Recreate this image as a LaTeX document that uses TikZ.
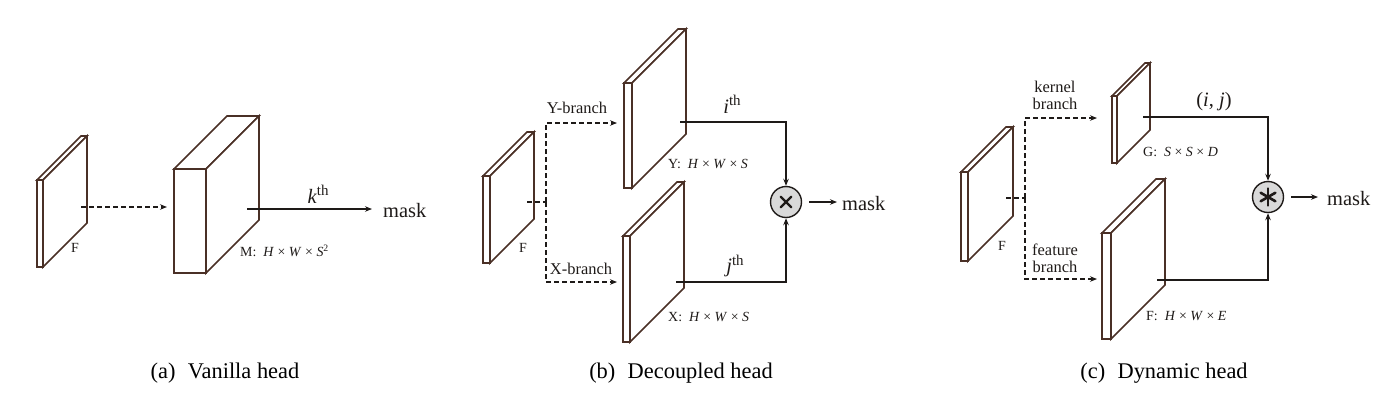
\documentclass[tikz,border=0pt]{standalone}
\usepackage{fontspec}
\setmainfont{Liberation Serif}
\usetikzlibrary{arrows.meta}
\definecolor{slabc}{HTML}{4A3026}
\definecolor{inkc}{HTML}{1E1A18}
\definecolor{opfill}{HTML}{D9D9D9}
% front face (x1,y1)-(x2,y2), depth offset d
\newcommand{\mkslab}[5]{%
  \filldraw[slabst] (#1,#2) -- (#1+#5,#2-#5) -- (#3+#5,#2-#5) -- (#3,#2) -- cycle;
  \filldraw[slabst] (#3,#2) -- (#3+#5,#2-#5) -- (#3+#5,#4-#5) -- (#3,#4) -- cycle;
  \filldraw[slabst] (#1,#2) rectangle (#3,#4);}
\begin{document}
\begin{tikzpicture}[x=1bp, y=-1bp,
  slabst/.style={draw=slabc, fill=white, line width=1.7bp, line join=miter},
  arr/.style={draw=inkc, line width=1.6bp, -{Stealth[length=7bp,width=5.5bp]}},
  dsh/.style={arr, dash pattern=on 5bp off 3bp},
  lbl/.style={inner sep=0, text=inkc, font=\fontsize{16.5}{17}\selectfont, align=center},
  dimlbl/.style={inner sep=0, text=inkc, font=\fontsize{14}{16}\selectfont, anchor=west},
  small/.style={inner sep=0, text=inkc, font=\fontsize{14}{15}\selectfont},
  big/.style={inner sep=0, text=inkc, font=\fontsize{20.5}{24}\selectfont},
  capt/.style={inner sep=0, text=black, font=\fontsize{22.5}{26}\selectfont, anchor=base},
  opnode/.style={circle, draw=inkc, fill=opfill, line width=1.4bp, minimum size=31bp, inner sep=0},
  opmark/.style={draw=inkc, line width=2.4bp, line cap=round}]
\useasboundingbox (0,0) rectangle (1400,411);

% ================= (a) Vanilla head =================
\mkslab{37}{180}{43}{267}{44}
\mkslab{174}{169}{206}{273}{53}
\node[small] (aFl) at (75,248) {F};
\node[dimlbl] (aMl) at (240,251) {M:\ \ \textit{H} × \textit{W} × \textit{S}\textsuperscript{2}};
\coordinate (aFs) at (81,207);
\coordinate (aMin) at (167,207);
\draw[dsh] (aFs) -- (aMin);
\coordinate (aMs) at (247,209);
\coordinate (aMe) at (372,209);
\node[big, anchor=west] (amask) at (383,211) {mask};
\draw[arr] (aMs) -- (aMe);
\node[big] (ak) at (318,194) {\textit{k}\raisebox{0.38em}{\fontsize{15}{15}\selectfont th}};
\node[capt] (acap) at (225,378) {(a)\hspace{0.55em}Vanilla head};

% ================= (b) Decoupled head =================
\mkslab{483}{176}{490}{263}{44}
\mkslab{624}{83}{632}{188}{54}
\mkslab{623}{236}{630}{342}{54}
\node[small] (bFl) at (523,248) {F};
\node[dimlbl] (bYl) at (668,164) {Y:\ \ \textit{H} × \textit{W} × \textit{S}};
\node[dimlbl] (bXl) at (668,317) {X:\ \ \textit{H} × \textit{W} × \textit{S}};
\coordinate (bFs) at (527,202);
\coordinate (bJ) at (546,202);
\coordinate (bJu) at (546,123);
\coordinate (bJd) at (546,282);
\coordinate (bYin) at (617,123);
\coordinate (bXin) at (617,282);
\draw[dsh, -] (bFs) -- (bJ);
\draw[dsh] (bJ) -- (bJu) -- (bYin);
\draw[dsh] (bJ) -- (bJd) -- (bXin);
\node[lbl] (bYb) at (577,108) {Y-branch};
\node[lbl] (bXb) at (581,269) {X-branch};
\node[opnode] (bop) at (786,202) {};
\draw[opmark] (bop.center) ++(45:7.5) -- ++(225:15);
\draw[opmark] (bop.center) ++(135:7.5) -- ++(315:15);
\coordinate (bYs) at (680,122);
\coordinate (bYc) at (786,122);
\coordinate (bXs) at (676,282);
\coordinate (bXc) at (786,282);
\draw[arr] (bYs) -- (bYc) -- (bop.north);
\draw[arr] (bXs) -- (bXc) -- (bop.south);
\node[big] (bi) at (732,104) {\textit{i}\raisebox{0.38em}{\fontsize{15}{15}\selectfont th}};
\node[big] (bj) at (735,266) {\textit{j}\raisebox{0.38em}{\fontsize{15}{15}\selectfont th}};
\coordinate (bms) at (809,202);
\coordinate (bme) at (837,202);
\node[big, anchor=west] (bmask) at (842,204) {mask};
\draw[arr] (bms) -- (bme);
\node[capt] (bcap) at (681,378) {(b)\hspace{0.55em}Decoupled head};

% ================= (c) Dynamic head =================
\mkslab{961}{172}{968}{261}{45}
\mkslab{1112}{96}{1117}{163}{33}
\mkslab{1102}{233}{1111}{339}{54}
\node[small] (cFl) at (1002,246) {F};
\node[dimlbl] (cGl) at (1143,152) {G:\ \ \textit{S} × \textit{S} × \textit{D}};
\node[dimlbl] (cF2l) at (1146,316) {F:\ \ \textit{H} × \textit{W} × \textit{E}};
\coordinate (cFs) at (1006,198);
\coordinate (cJ) at (1025,198);
\coordinate (cJu) at (1025,118);
\coordinate (cJd) at (1025,279);
\coordinate (cGin) at (1097,118);
\coordinate (cF2in) at (1097,279);
\draw[dsh, -] (cFs) -- (cJ);
\draw[dsh] (cJ) -- (cJu) -- (cGin);
\draw[dsh] (cJ) -- (cJd) -- (cF2in);
\node[lbl] (ckb) at (1055,95) {kernel\\branch};
\node[lbl] (cfb) at (1055,258) {feature\\branch};
\node[opnode] (cop) at (1268,197) {};
\foreach \a in {90,30,-30,-90,150,210}
  \draw[opmark, line width=2.6bp] (cop.center) -- ++(\a:8.5);
\coordinate (cGs) at (1143,117);
\coordinate (cGc) at (1268,117);
\coordinate (cF2s) at (1157,280);
\coordinate (cF2c) at (1268,280);
\draw[arr] (cGs) -- (cGc) -- (cop.north);
\draw[arr] (cF2s) -- (cF2c) -- (cop.south);
\node[big] (cij) at (1214,102) {(\textit{i}, \textit{j})};
\coordinate (cms) at (1291,197);
\coordinate (cme) at (1318,197);
\node[big, anchor=west] (cmask) at (1327,199) {mask};
\draw[arr] (cms) -- (cme);
\node[capt] (ccap) at (1164,378) {(c)\hspace{0.55em}Dynamic head};
\end{tikzpicture}
\end{document}
